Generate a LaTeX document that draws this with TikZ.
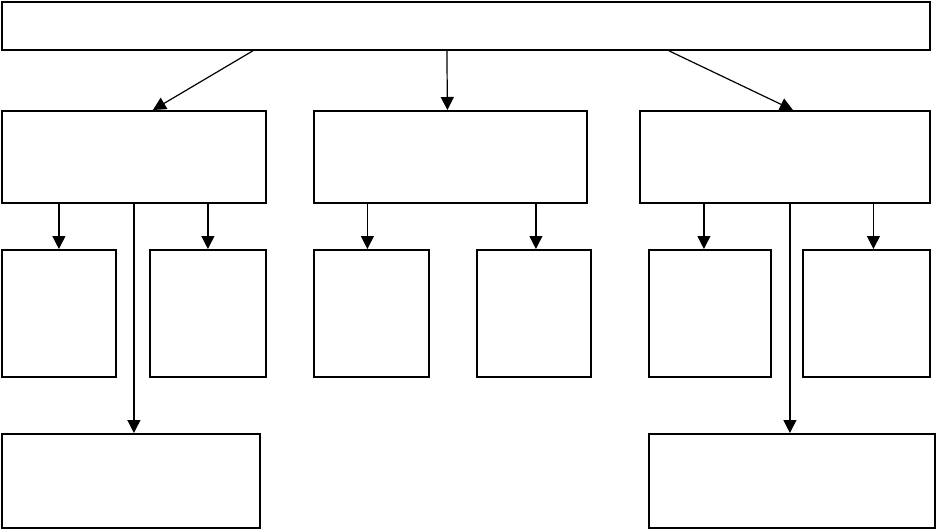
\documentclass[tikz,border=0pt]{standalone}
\usetikzlibrary{arrows.meta,positioning,calc}
\tikzset{%
  >={Triangle[width=13pt,length=13pt]},
  % Specifications for style of nodes:
     base/.style = {rectangle, draw=black, line width=1.8pt,
                    inner sep=0pt, anchor=north west},
   topbox/.style = {base, minimum width=928pt, minimum height=48pt},
   midbox/.style = {base, minimum height=92pt},
  leafbox/.style = {base, minimum height=127pt},
   endbox/.style = {base, minimum height=94pt},
     link/.style = {->, line width=1.2pt},
}

\begin{document}
\begin{tikzpicture}[x=1pt, y=-1pt]
\useasboundingbox (0,0) rectangle (936,528);

\node (Top)  [topbox]                       at (1,1)     {};

\node (ML)   [midbox, minimum width=264pt]  at (1,110)   {};
\node (MC)   [midbox, minimum width=273pt]  at (313,110) {};
\node (MR)   [midbox, minimum width=290pt]  at (639,110) {};

\node (L1)   [leafbox, minimum width=114pt] at (1,249)   {};
\node (L2)   [leafbox, minimum width=116pt] at (149,249) {};
\node (C1)   [leafbox, minimum width=115pt] at (313,249) {};
\node (C2)   [leafbox, minimum width=114pt] at (476,249) {};
\node (R1)   [leafbox, minimum width=122pt] at (648,249) {};
\node (R2)   [leafbox, minimum width=127pt] at (802,249) {};

\node (BL)   [endbox, minimum width=258pt]  at (1,433)   {};
\node (BR)   [endbox, minimum width=286pt]  at (648,433) {};

\draw[link] ([xshift=-213pt]Top.south) -- ([xshift=19pt]ML.north);
\draw[link] ([xshift=-19pt]Top.south)  -- ([xshift=-3pt]MC.north);
\draw[link] ([xshift=203pt]Top.south)  -- ([xshift=8pt]MR.north);

\draw[link] (ML.south -| L1.north) -- (L1.north);
\draw[link] (ML.south -| L2.north) -- (L2.north);
\draw[link] (ML.south)             -- ([xshift=3pt]BL.north);

\draw[link] ($(MC.south -| C1.north)+(-4,0)$) -- ([xshift=-4pt]C1.north);
\draw[link] ($(MC.south -| C2.north)+(2,0)$)  -- ([xshift=2pt]C2.north);

\draw[link] ($(MR.south -| R1.north)+(-6,0)$) -- ([xshift=-6pt]R1.north);
\draw[link] ($(MR.south -| R2.north)+(7,0)$)  -- ([xshift=7pt]R2.north);
\draw[link] ([xshift=5pt]MR.south)            -- ([xshift=-2pt]BR.north);
\end{tikzpicture}
\end{document}
